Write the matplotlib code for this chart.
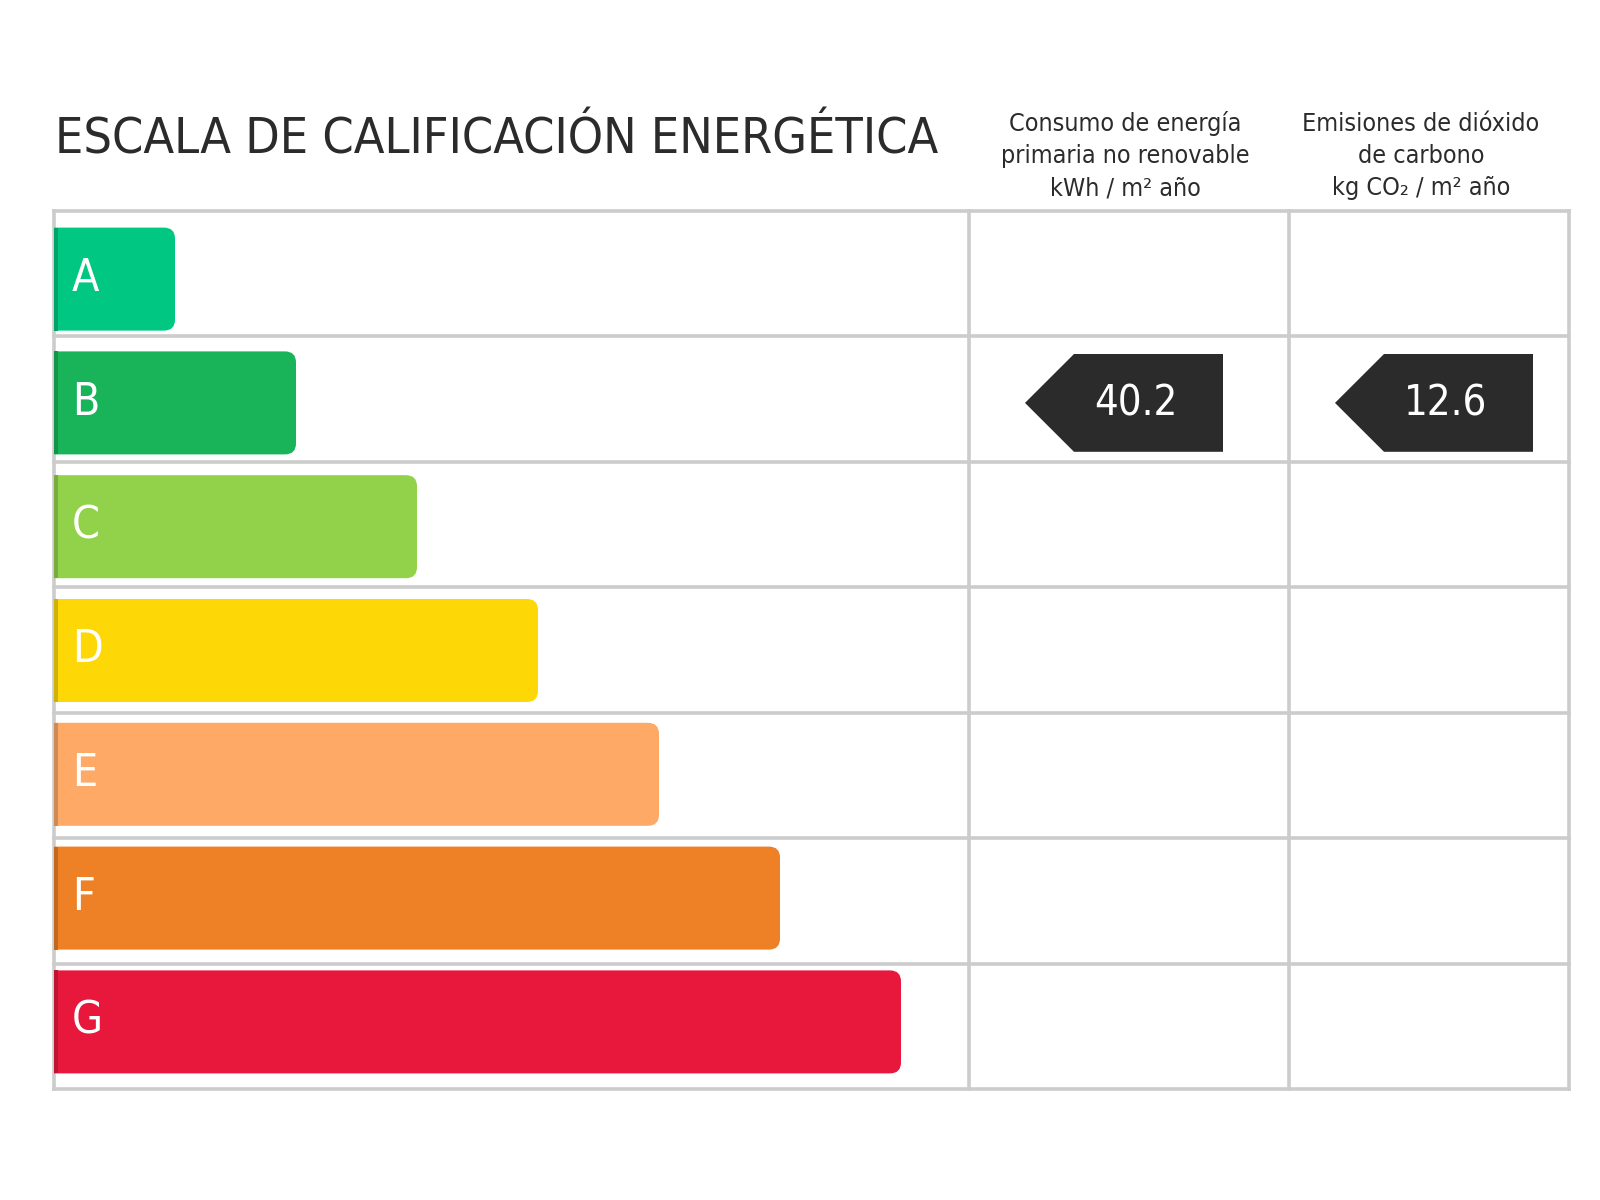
"""Escala de calificación energética (etiqueta A-G)."""

import matplotlib

matplotlib.use("Agg")
import matplotlib.pyplot as plt
from matplotlib import font_manager, transforms
from matplotlib.colors import to_rgb
from matplotlib.patches import PathPatch, Polygon, Rectangle
from matplotlib.path import Path

# ---- datos ----
letras = ["A", "B", "C", "D", "E", "F", "G"]
niveles = [1, 2, 3, 4, 5, 6, 7]
colores = ["#00c882", "#19b35a", "#92d24a", "#fed806", "#fea966", "#ee8026", "#e8173c"]
calificacion = "B"
valores = ["40.2", "12.6"]
titulo = "ESCALA DE CALIFICACIÓN ENERGÉTICA"
cabeceras = [
    ["Consumo de energía", "primaria no renovable", "kWh / m² año"],
    ["Emisiones de dióxido", "de carbono", "kg CO₂ / m² año"],
]

# ---- fuente ----
condensada = any(
    f.name == "DejaVu Sans" and f.stretch == "condensed"
    for f in font_manager.fontManager.ttflist
)
FAM = ["DejaVu Sans", "Roboto"] if condensada else ["Roboto", "DejaVu Sans"]
STRETCH = "condensed" if condensada else "normal"
TXT = "#2b2b2b"
GRIS = "#cccccc"


def barra_redondeada(x0, y0, ancho, alto, rx, ry):
    """Rectángulo con sólo las esquinas derechas redondeadas."""
    x1, y1 = x0 + ancho, y0 + alto
    verts = [
        (x0, y0), (x1 - rx, y0), (x1, y0), (x1, y0 + ry),
        (x1, y1 - ry), (x1, y1), (x1 - rx, y1), (x0, y1), (x0, y0),
    ]
    codes = [
        Path.MOVETO, Path.LINETO, Path.CURVE3, Path.CURVE3,
        Path.LINETO, Path.CURVE3, Path.CURVE3, Path.LINETO, Path.CLOSEPOLY,
    ]
    return Path(verts, codes)


W, H = 1600, 1200
fig = plt.figure(figsize=(16, 12), dpi=100)

# capa de maquetación en píxeles (tabla, cabeceras)
base = fig.add_axes([0, 0, 1, 1])
base.set_xlim(0, W)
base.set_ylim(H, 0)
base.axis("off")

izq, der, arriba, abajo = 54, 1569, 211, 1089
cols = [izq, 969, 1289, der]
filas = len(letras)
alto_fila = (abajo - arriba) / filas
lw = 2.6
for i in range(filas + 1):
    base.plot([izq, der], [arriba + i * alto_fila] * 2, color=GRIS, lw=lw,
              solid_capstyle="projecting", zorder=1)
for x in cols:
    base.plot([x, x], [arriba, abajo], color=GRIS, lw=lw,
              solid_capstyle="projecting", zorder=1)

base.text(55, 153, titulo, fontsize=36, color=TXT, family=FAM,
          fontstretch=STRETCH, ha="left", va="baseline")

centros_cab = [1125, 1421]
for cx, lineas in zip(centros_cab, cabeceras):
    for k, linea in enumerate(lineas):
        base.text(cx, 131 + k * 32, linea, fontsize=18, color=TXT, family=FAM,
                  fontstretch=STRETCH, ha="center", va="baseline")

# ---- barras ----
px_nivel = 121.0
paso = 123.8
ax = fig.add_axes([izq / W, 1 - (217.2 + 7 * paso) / H,
                   7.5 * px_nivel / W, 7 * paso / H])
ax.set_xlim(0, 7.5)
ax.set_ylim(6.5, -0.5)
ax.axis("off")

alto = 0.832
r_px = 11
for i, (letra, n, c) in enumerate(zip(letras, niveles, colores)):
    y0 = i - alto / 2
    ax.add_patch(PathPatch(barra_redondeada(0, y0, n, alto, r_px / px_nivel, r_px / paso),
                           fc=c, ec="none", zorder=2))
    oscuro = tuple(v * 0.82 for v in to_rgb(c))
    ax.add_patch(Rectangle((0, y0), 3.5 / px_nivel, alto, fc=oscuro, ec="none",
                           zorder=3))
    ax.text(0.15, i + 0.095, letra, fontsize=32, color="white", family=FAM,
            fontstretch=STRETCH, ha="left", va="baseline", zorder=4)

# ---- flechas con los valores ----
fila = letras.index(calificacion)
mixto = transforms.blended_transform_factory(base.transData, ax.transData)
puntas = [1025, 1335]
ancho_tag, muesca, alto_tag = 198, 49, 0.79
for xp, v in zip(puntas, valores):
    pts = [
        (xp, fila),
        (xp + muesca, fila - alto_tag / 2),
        (xp + ancho_tag, fila - alto_tag / 2),
        (xp + ancho_tag, fila + alto_tag / 2),
        (xp + muesca, fila + alto_tag / 2),
    ]
    base.add_patch(Polygon(pts, closed=True, fc=TXT, ec="none",
                           transform=mixto, zorder=5))
    base.text(xp + 111, fila + 0.105, v, fontsize=30, color="white",
              family=FAM, fontstretch=STRETCH, ha="center", va="baseline",
              transform=mixto, zorder=6)

fig.savefig("out.png", dpi=100, facecolor="white")
plt.close(fig)
